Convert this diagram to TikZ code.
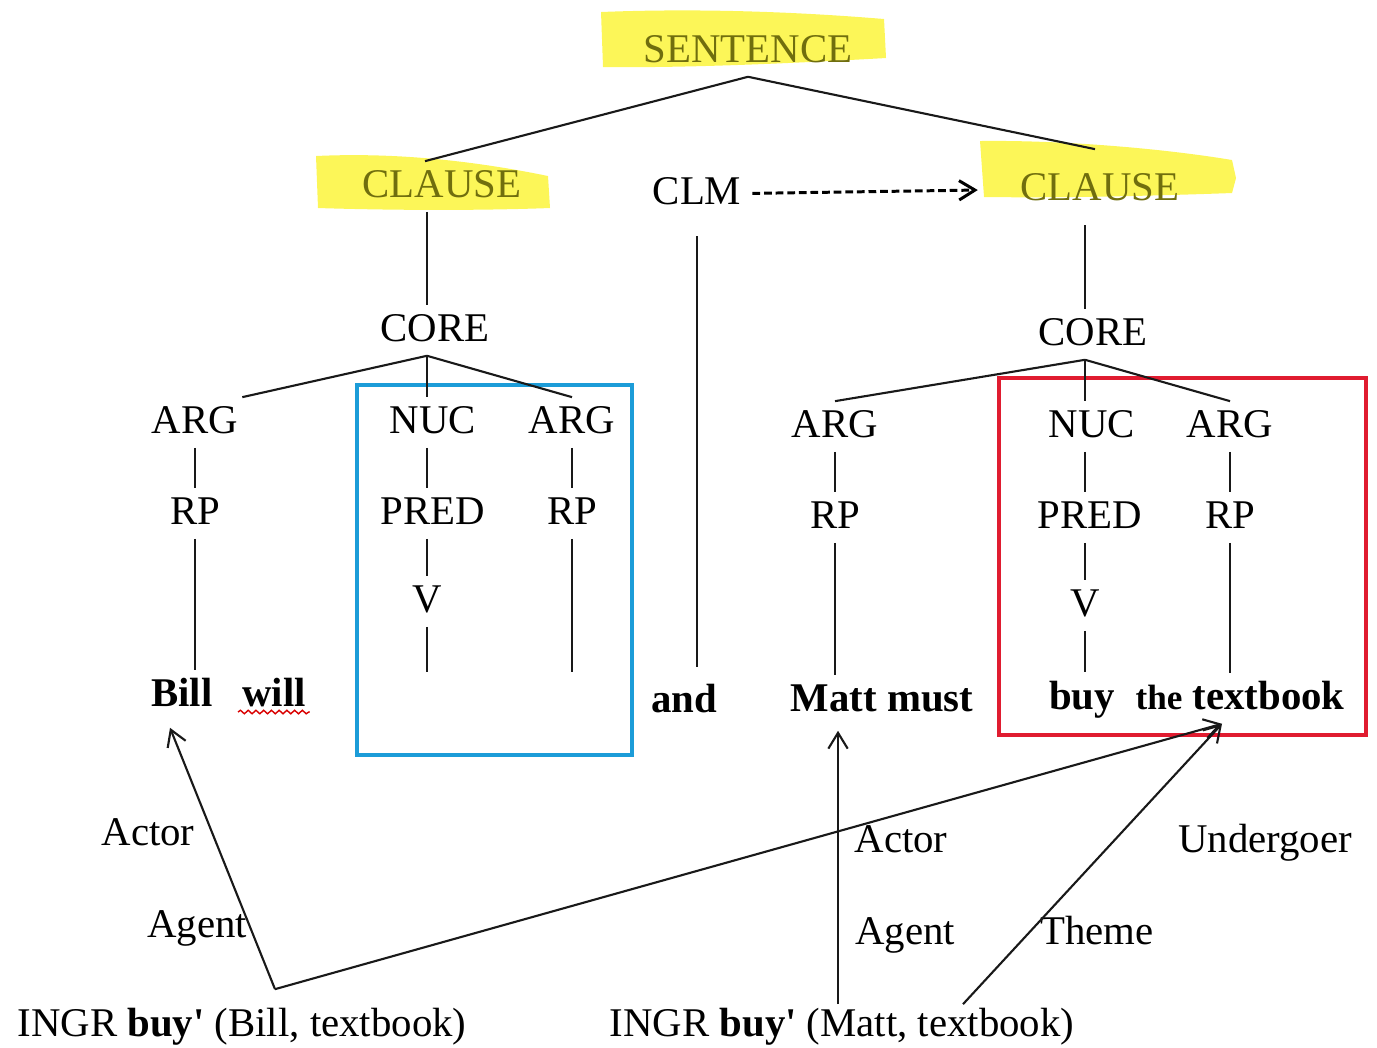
\documentclass[tikz,border=0pt]{standalone}
\usepackage{fontspec}
\setmainfont{Liberation Serif}
\usetikzlibrary{arrows.meta, positioning, calc, decorations.pathmorphing}

\definecolor{hlyellow}{RGB}{252,246,88}
\definecolor{hltext}{RGB}{112,110,14}
\definecolor{boxblue}{RGB}{28,156,216}
\definecolor{boxred}{RGB}{224,28,48}

\begin{document}
\begin{tikzpicture}[
  x=0.01cm, y=-0.01cm,
  >={Straight Barb[length=4.5pt,width=5.5pt]},
  cat/.style={anchor=base, inner xsep=1pt, inner ysep=2pt, text height=8pt, text depth=2pt, font=\fontsize{11.6}{14}\selectfont},
  hlcat/.style={cat, text=hltext},
  word/.style={cat, font=\fontsize{11.6}{14}\selectfont\bfseries},
  branch/.style={line width=0.6pt, black!90},
  flow/.style={->, line width=0.6pt, black!90},
  clmflow/.style={->, line width=0.85pt, dash pattern=on 2.2pt off 1.1pt, shorten >=11pt, shorten <=2pt},
  hlmark/.style={fill=hlyellow},
  coremark/.style={draw=boxblue, line width=1.1pt},
  nucmark/.style={draw=boxred, line width=1.1pt},
  squiggle/.style={red!85!black, line width=0.4pt, decorate, decoration={snake, amplitude=0.5pt, segment length=2.2pt}}
]
\useasboundingbox (0,0) rectangle (1377,1047);

% highlighter strokes
\fill[hlmark] (601,12) .. controls (700,8) and (800,12) .. (884,19) -- (886,58)
  .. controls (780,64) and (680,68) .. (603,67) -- cycle;
\fill[hlmark] (316,156) .. controls (400,152) and (480,162) .. (548,176) -- (550,208)
  .. controls (470,211) and (380,210) .. (318,208) -- cycle;
\fill[hlmark] (980,141) .. controls (1060,140) and (1160,148) .. (1232,160) -- (1236,178)
  -- (1232,193) .. controls (1150,196) and (1060,198) .. (984,197) -- cycle;

% tree nodes
\node[hlcat] (SENT) at (748,62)  {SENTENCE};
\node[hlcat] (CLL)  at (442,197) {CLAUSE};
\node[cat]   (CLM)  at (697,204) {CLM};
\node[hlcat] (CLR)  at (1100,200) {CLAUSE};

\node[cat] (COREL) at (435,341)  {CORE};
\node[cat] (CORER) at (1093,345) {CORE};

\node[cat] (ARGa)  at (195,433) {ARG};
\node[cat] (NUCa)  at (433,433) {NUC};
\node[cat] (ARGb)  at (572,433) {ARG};
\node[cat] (RPa)   at (195,524) {RP};
\node[cat] (PREDa) at (433,524) {PRED};
\node[cat] (RPb)   at (572,524) {RP};
\node[cat] (Va)    at (427,612) {V};

\node[cat] (ARGc)  at (835,437)  {ARG};
\node[cat] (NUCb)  at (1092,437) {NUC};
\node[cat] (ARGd)  at (1230,437) {ARG};
\node[cat] (RPc)   at (835,528)  {RP};
\node[cat] (PREDb) at (1090,528) {PRED};
\node[cat] (RPd)   at (1230,528) {RP};
\node[cat] (Vb)    at (1085,616) {V};

% words
\node[word] (Bill)  at (182,706)  {Bill};
\node[word] (will)  at (274,706)  {will};
\node[word] (and)   at (684,712)  {and};
\node[word] (Matt)  at (882,711)  {Matt must};
\node[word] (buy)   at (1082,709) {buy};
\node[word] (tbook) at (1240,709) {{\fontsize{10}{12}\selectfont the} textbook};

% roles and logical structures
\node[cat] (ActL) at (148,845)  {Actor};
\node[cat] (AgtL) at (197,937)  {Agent};
\node[cat] (ActR) at (901,852)  {Actor};
\node[cat] (AgtR) at (905,944)  {Agent};
\node[cat] (Thm)  at (1097,944) {Theme};
\node[cat] (Und)  at (1265,852) {Undergoer};
\node[cat] (INGRa) at (242,1036) {INGR \textbf{buy\textquotesingle} (Bill, textbook)};
\node[cat] (INGRb) at (842,1036) {INGR \textbf{buy\textquotesingle} (Matt, textbook)};

% boxes round the core parts
\draw[coremark] (357,385) rectangle (632,755);
\draw[nucmark] (999,378) rectangle (1366,735);

% branches
\draw[branch] (SENT.south) -- ($(CLL.north)+(-17,0)$);
\draw[branch] (SENT.south) -- ($(CLR.north)+(-5,-15)$);
\draw[branch] (CLL.south -| Va) -- (COREL.north -| Va);
\draw[branch, shorten <=3pt] (CLR.south -| Vb) -- (CORER.north -| Vb);
\draw[branch, shorten <=5pt, shorten >=2.5pt] (CLM.south) -- (CLM.south |- and.north);
\draw[clmflow] (CLM.east) -- (CLR.west);

\draw[branch] (COREL.south -| Va) -- (ARGa.north east);
\draw[branch] (COREL.south -| Va) -- (NUCa.north -| Va);
\draw[branch] (COREL.south -| Va) -- (ARGb.north);
\draw[branch] (ARGa) -- (RPa);
\draw[branch] (RPa) -- (RPa |- Bill.north);
\draw[branch] (NUCa.south -| Va) -- (PREDa.north -| Va);
\draw[branch] (PREDa.south -| Va) -- (Va.north);
\coordinate (gapa) at (427,672);
\draw[branch] (Va) -- (gapa);
\draw[branch] (ARGb) -- (RPb);
\coordinate (gapb) at (572,672);
\draw[branch] (RPb) -- (gapb);

\draw[branch] (CORER.south -| Vb) -- (ARGc.north);
\draw[branch] (CORER.south -| Vb) -- (NUCb.north -| Vb);
\draw[branch] (CORER.south -| Vb) -- (ARGd.north);
\draw[branch] (ARGc) -- (RPc);
\draw[branch] (RPc) -- (RPc |- Matt.north);
\draw[branch] (NUCb.south -| Vb) -- (PREDb.north -| Vb);
\draw[branch] (PREDb.south -| Vb) -- (Vb.north);
\coordinate (gapc) at (1085,672);
\draw[branch] (Vb) -- (gapc);
\draw[branch] (ARGd) -- (RPd);
\draw[branch] (RPd) -- (RPd |- tbook.north);

% spell-check mark
\draw[squiggle] ($(will.base west)+(0,6)$) -- ($(will.base east)+(0,6)$);

% linking arrows
\coordinate (srcA) at ($(INGRa.north)+(33,-11)$);
\coordinate (srcB) at ($(INGRb.north)+(-4,4)$);
\coordinate (srcC) at ($(INGRb.north)+(121,4)$);
\coordinate (billpt) at ($(Bill.south)+(-12,7)$);
\coordinate (mattpt) at ($(RPc |- Matt.south)+(3,5)$);
\coordinate (bookpt) at ($(RPd |- tbook.south)+(-8,0)$);
\draw[flow] (srcA) -- (billpt);
\draw[flow] (srcA) -- (bookpt);
\draw[flow] (srcB) -- (mattpt);
\draw[flow] (srcC) -- (bookpt);

\end{tikzpicture}
\end{document}
